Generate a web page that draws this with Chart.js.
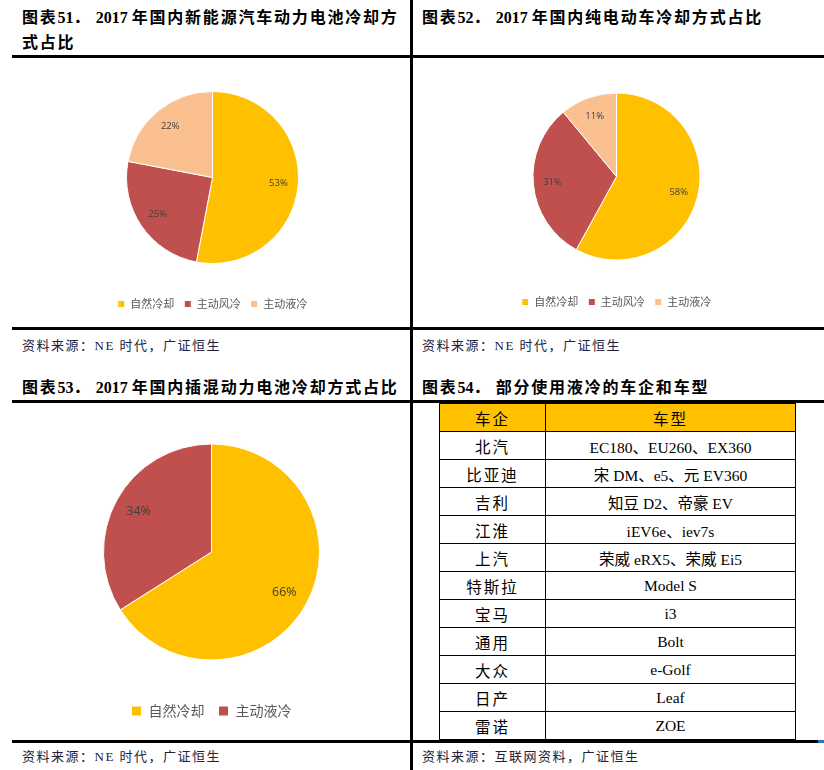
<!DOCTYPE html>
<html>
<head>
<meta charset="utf-8">
<script src="https://cdn.jsdelivr.net/npm/chart.js@4.4.1/dist/chart.umd.min.js"></script>
<style>
    body { margin: 0; width: 824px; height: 770px; position: relative; background: #fff; overflow: hidden; }
    .t { position: absolute; font-family: "Liberation Serif", "Noto Sans CJK SC", serif; font-weight: 700; font-size: 16px; color: #000; line-height: 25px; white-space: nowrap; }
    .t .c { letter-spacing: 1.8px; }
    .t .y { margin-left: 6px; }
    .s { position: absolute; font-family: "Liberation Serif", "Noto Sans CJK SC", serif; font-size: 13px; letter-spacing: 1.5px; color: #22223a; white-space: nowrap; line-height: 18px; }
    .h { position: absolute; background: #000; height: 3px; }
    .v { position: absolute; background: #000; width: 3px; }
    .box { position: absolute; }
    #tbl { position: absolute; left: 439px; top: 403px; width: 356px; border-collapse: collapse; table-layout: fixed;
           font-family: "Liberation Serif", "Noto Sans CJK SC", serif; font-size: 15.5px; color: #000; }
    #tbl td { border: 1px solid #000; height: 27px; padding: 0; text-align: center; }
    #tbl td:first-child { letter-spacing: 2px; }
    #tbl tr.hd td { background: #FFC000; letter-spacing: 2px; }
</style>
</head>
<body>

<div class="t" style="left:22px;top:5px;"><span class="c">图表</span>51．<span class="y">2017</span> <span class="c">年国内新能源汽车动力电池冷却方</span><br><span class="c">式占比</span></div>
<div class="t" style="left:422px;top:5px;"><span class="c">图表</span>52．<span class="y">2017</span> <span class="c">年国内纯电动车冷却方式占比</span></div>
<div class="t" style="left:22px;top:375px;"><span class="c">图表</span>53．<span class="y">2017</span> <span class="c">年国内插混动力电池冷却方式占比</span></div>
<div class="t" style="left:422px;top:375px;"><span class="c">图表</span>54．<span class="c y">部分使用液冷的车企和车型</span></div>

<div class="s" style="left:22px;top:337px;">资料来源：NE 时代，广证恒生</div>
<div class="s" style="left:422px;top:337px;">资料来源：NE 时代，广证恒生</div>
<div class="s" style="left:22px;top:748px;">资料来源：NE 时代，广证恒生</div>
<div class="s" style="left:422px;top:748px;">资料来源：互联网资料，广证恒生</div>

<div class="box" style="left:12px;top:60px;width:398px;height:262px;"><canvas id="c51"></canvas></div>
<div class="box" style="left:413px;top:60px;width:411px;height:260px;"><canvas id="c52"></canvas></div>
<div class="box" style="left:12px;top:405px;width:398px;height:325px;"><canvas id="c53"></canvas></div>

<table id="tbl">
    <colgroup><col style="width:106px"><col style="width:250px"></colgroup>
    <tbody id="tb"></tbody>
</table>

<div class="h" style="left:12px;top:55px;width:812px;"></div>
<div class="h" style="left:12px;top:327px;width:812px;"></div>
<div class="h" style="left:12px;top:400px;width:812px;"></div>
<div class="h" style="left:12px;top:740px;width:806px;"></div>
<div class="h" style="left:818px;top:740px;width:6px;background:#2E75B6;"></div>
<div class="v" style="left:410px;top:0;height:770px;"></div>

<script>
    // chart data
    const colors = ['#FFC000', '#C0504D', '#FAC090'];

    const labels51 = ['自然冷却', '主动风冷', '主动液冷'];
    const values51 = [53, 25, 22];

    const labels52 = ['自然冷却', '主动风冷', '主动液冷'];
    const values52 = [58, 31, 11];

    const labels53 = ['自然冷却', '主动液冷'];
    const values53 = [66, 34];

    // table 54
    const tableHead = ['车企', '车型'];
    const makers = ['北汽', '比亚迪', '吉利', '江淮', '上汽', '特斯拉', '宝马', '通用', '大众', '日产', '雷诺'];
    const models = ['EC180、EU260、EX360', '宋 DM、e5、元 EV360', '知豆 D2、帝豪 EV', 'iEV6e、iev7s',
                    '荣威 eRX5、荣威 Ei5', 'Model S', 'i3', 'Bolt', 'e-Golf', 'Leaf', 'ZOE'];

    var tb = document.getElementById('tb');
    var rows = '<tr class="hd"><td>' + tableHead[0] + '</td><td>' + tableHead[1] + '</td></tr>';
    makers.forEach((m, i) => {
        rows += '<tr><td>' + m + '</td><td>' + models[i] + '</td></tr>';
    });
    tb.innerHTML = rows;

    // percent labels inside the slices
    const pctLabels = {
        id: 'pctLabels',
        afterDatasetsDraw(chart, args, opts) {
            const ctx = chart.ctx;
            const meta = chart.getDatasetMeta(0);
            const data = chart.data.datasets[0].data;
            ctx.save();
            ctx.font = opts.size + 'px "Open Sans", sans-serif';
            ctx.fillStyle = '#404040';
            ctx.textAlign = 'center';
            ctx.textBaseline = 'middle';
            meta.data.forEach((arc, i) => {
                const p = arc.getProps(['x', 'y', 'startAngle', 'endAngle', 'outerRadius'], true);
                const a = (p.startAngle + p.endAngle) / 2;
                const r = p.outerRadius * 0.77;
                ctx.fillText(data[i] + '%', p.x + Math.cos(a) * r, p.y + Math.sin(a) * r);
            });
            ctx.restore();
        }
    };

    function makePie(id, labels, values, o) {
        return new Chart(document.getElementById(id), {
            type: 'pie',
            data: {
                labels: labels,
                datasets: [{
                    data: values,
                    backgroundColor: colors.slice(0, values.length),
                    borderColor: '#ffffff',
                    borderWidth: 1
                }]
            },
            options: {
                responsive: true,
                maintainAspectRatio: false,
                animation: false,
                events: [],
                radius: o.radius,
                layout: { padding: o.pad },
                plugins: {
                    legend: {
                        position: 'bottom',
                        labels: {
                            boxWidth: o.box,
                            boxHeight: o.box,
                            padding: o.legPad,
                            color: '#595959',
                            font: { family: '"Noto Sans CJK SC", sans-serif', size: o.legSize }
                        }
                    },
                    tooltip: { enabled: false },
                    pctLabels: { size: o.labelSize }
                }
            },
            plugins: [pctLabels]
        });
    }

    makePie('c51', labels51, values51, {
        radius: 86, pad: { left: 3, top: 6.5, bottom: 2.5 },
        box: 7, legPad: 10, legSize: 11, labelSize: 9.5
    });
    makePie('c52', labels52, values52, {
        radius: 83.5, pad: { right: 4, top: 6.5, bottom: 2.5 },
        box: 7, legPad: 10, legSize: 11, labelSize: 9.5
    });
    makePie('c53', labels53, values53, {
        radius: 108, pad: { left: 1, top: 9, bottom: 2 },
        box: 10, legPad: 14, legSize: 14, labelSize: 12.5
    });
</script>
</body>
</html>
